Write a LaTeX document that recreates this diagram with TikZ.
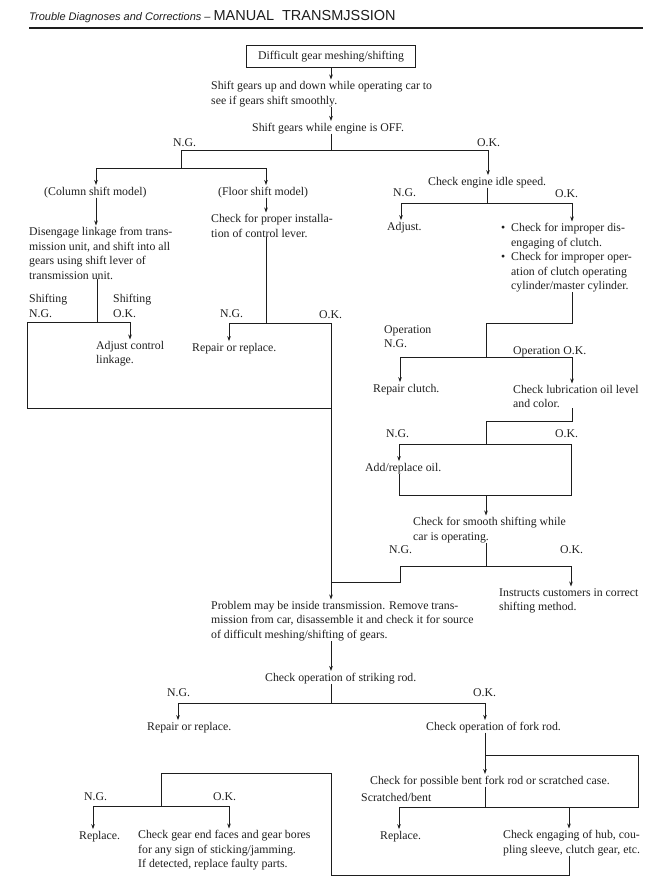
\documentclass[tikz,border=0pt]{standalone}
\usepackage{fontspec}
\setmainfont{Liberation Serif}
\setsansfont{Liberation Sans}
\usepackage{xcolor}
\definecolor{ink}{HTML}{1E1E1E}
\usetikzlibrary{arrows.meta,positioning}
\tikzset{
  txt/.style={font=\fontsize{11.8}{14.5}\selectfont, text=ink, inner sep=0pt, anchor=base west},
  blk/.style={font=\fontsize{11.8}{14.5}\selectfont, text=ink, inner sep=0pt, anchor=north west, align=left},
  ln/.style={ink, line width=0.8pt},
  arr/.style={ink, line width=0.8pt, -{Stealth[length=5pt,width=3.6pt]}, shorten >=1.5pt},
}
\newcommand{\bul}{\textbullet\ \ }
\newcommand{\nobul}{\phantom{\textbullet\ \ }}
\begin{document}
\begin{tikzpicture}[x=1pt,y=-1pt]
  \useasboundingbox (0,0) rectangle (655,889);

  \node[inner sep=0pt, anchor=base west, text=ink] (title) at (29,20) {\sffamily\itshape\fontsize{11}{12}\selectfont Trouble Diagnoses and Corrections -- \upshape\fontsize{14.5}{16}\selectfont MANUAL\ \ TRANSMJSSION};
  \draw[ink, line width=1.2pt] (29,28) -- (643,28);

  \node[draw=ink, line width=1.7pt, inner sep=0pt, minimum width=169pt, minimum height=22pt, font=\fontsize{11.8}{14.5}\selectfont, text=ink] (start) at (331,56.5) {Difficult gear meshing/shifting};
  \node[blk] (updown) at (211,81) {Shift gears up and down while operating car to\\see if gears shift smoothly.};
  \draw[arr] (start) -- (updown.north -| start);
  \node[txt] (engoff) at (252,131) {Shift gears while engine is OFF.};
  \draw[arr] (updown.south -| start) -- (engoff.north -| start);
  \node[txt] (ngA) at (173,146) {N.G.};
  \node[txt] (okA) at (477,146) {O.K.};
  \coordinate (j1) at (331,150);
  \coordinate (j1l) at (181,150);
  \coordinate (j1r) at (488,150);
  \draw[ln] (engoff.south -| j1) -- (j1) (j1l) -- (j1r);

  % column / floor shift
  \coordinate (j2l) at (96,168);
  \coordinate (j2r) at (266,168);
  \draw[ln] (j1l) -- (181,168) (j2l) -- (j2r);
  \node[txt] (column) at (44,195) {(Column shift model)};
  \node[txt] (floor) at (218,195) {(Floor shift model)};
  \draw[arr] (j2l) -- (column.north -| j2l);
  \draw[arr] (j2r) -- (floor.north -| j2r);

  \node[blk] (disengage) at (29,227) {Disengage linkage from trans-\\mission unit, and shift into all\\gears using shift lever of\\transmission unit.};
  \draw[arr] (column.south -| j2l) -- (disengage.north -| j2l);
  \node[blk] (colng) at (29,294) {Shifting\\N.G.};
  \node[blk] (colok) at (113,294) {Shifting\\O.K.};
  \coordinate (j3) at (97,322);
  \coordinate (j3l) at (27,322);
  \coordinate (j3r) at (130,322);
  \draw[ln] (disengage.south -| j3) -- (j3) (j3l) -- (j3r);
  \node[blk] (adjlink) at (96,341) {Adjust control\\linkage.};
  \draw[arr] (j3r) -- (adjlink.north -| j3r);
  \coordinate (j4) at (27,408);
  \coordinate (j4r) at (331,408);
  \draw[ln] (j3l) -- (j4) -- (j4r);

  \node[blk] (install) at (211,214) {Check for proper installa-\\tion of control lever.};
  \draw[arr] (floor.south -| j2r) -- (install.north -| j2r);
  \node[txt] (flng) at (220,317) {N.G.};
  \node[txt] (flok) at (319,318) {O.K.};
  \coordinate (j5) at (266,323);
  \coordinate (j5l) at (229,323);
  \coordinate (j5r) at (331,323);
  \draw[ln] (install.south -| j5) -- (j5) (j5l) -- (j5r);
  \node[txt] (repairA) at (192,351) {Repair or replace.};
  \draw[arr] (j5l) -- (repairA.north -| j5l);

  % engine idle / clutch branch
  \node[txt] (idle) at (428,185) {Check engine idle speed.};
  \draw[arr] (j1r) -- (idle.north -| j1r);
  \node[txt] (idleng) at (393,196) {N.G.};
  \node[txt] (idleok) at (555,197) {O.K.};
  \coordinate (j6) at (487,203);
  \coordinate (j6l) at (401,203);
  \coordinate (j6r) at (572,203);
  \draw[ln] (idle.south -| j6) -- (j6) (j6l) -- (j6r);
  \node[txt] (adjust) at (387,230) {Adjust.};
  \draw[arr] (j6l) -- (adjust.north -| j6l);
  \node[blk] (clutch) at (501,223) {\bul Check for improper dis-\\\nobul engaging of clutch.\\\bul Check for improper oper-\\\nobul ation of clutch operating\\\nobul cylinder/master cylinder.};
  \draw[arr] (j6r) -- (clutch.north -| j6r);

  \coordinate (j7) at (572,323);
  \coordinate (j7l) at (486,323);
  \coordinate (j8) at (486,357);
  \coordinate (j8l) at (400,357);
  \coordinate (j8r) at (572,357);
  \draw[ln] (clutch.south -| j7) -- (j7) -- (j7l) -- (j8) (j8l) -- (j8r);
  \node[blk] (opng) at (384,325) {Operation\\N.G.};
  \node[txt] (opok) at (513,354) {Operation O.K.};
  \node[txt] (repclutch) at (373,392) {Repair clutch.};
  \node[blk] (lube) at (513,385) {Check lubrication oil level\\and color.};
  \draw[arr] (j8l) -- (repclutch.north -| j8l);
  \draw[arr] (j8r) -- (lube.north -| j8r);

  \coordinate (j9) at (572,421);
  \coordinate (j9l) at (486,421);
  \coordinate (j10) at (486,444);
  \coordinate (j10l) at (399,444);
  \coordinate (j10r) at (571,444);
  \draw[ln] (lube.south -| j9) -- (j9) -- (j9l) -- (j10) (j10l) -- (j10r);
  \node[txt] (oilng) at (386,437) {N.G.};
  \node[txt] (oilok) at (555,437) {O.K.};
  \node[txt] (oil) at (365,471) {Add/replace oil.};
  \draw[arr] (j10l) -- (oil.north -| j10l);
  \coordinate (j11) at (486,495);
  \coordinate (j11l) at (399,495);
  \coordinate (j11r) at (571,495);
  \draw[ln] (oil.south -| j11l) -- (j11l) -- (j11r) -- (j10r);
  \node[blk] (smooth) at (413,517) {Check for smooth shifting while\\car is operating.};
  \draw[arr] (j11) -- (smooth.north -| j11);

  \node[txt] (smng) at (389,553) {N.G.};
  \node[txt] (smok) at (560,553) {O.K.};
  \coordinate (j12) at (486,566);
  \coordinate (j12l) at (400,566);
  \coordinate (j12r) at (571,566);
  \coordinate (j13) at (400,582);
  \coordinate (j13l) at (331,582);
  \draw[ln] (smooth.south -| j12) -- (j12) (j12l) -- (j12r) (j12l) -- (j13) -- (j13l);
  \node[blk] (instruct) at (499,588) {Instructs customers in correct\\shifting method.};
  \draw[arr] (j12r) -- (instruct.north -| j12r);

  % inside transmission
  \node[blk] (problem) at (211,601) {Problem may be inside transmission. Remove trans-\\mission from car, disassemble it and check it for source\\of difficult meshing/shifting of gears.};
  \draw[arr] (j5r) -- (problem.north -| j5r);

  \node[txt] (striking) at (265,681) {Check operation of striking rod.};
  \draw[arr] (problem.south -| j5r) -- (striking.north -| j5r);
  \node[txt] (strng) at (167,696) {N.G.};
  \node[txt] (strok) at (473,696) {O.K.};
  \coordinate (j14) at (331,703);
  \coordinate (j14l) at (178,703);
  \coordinate (j14r) at (485,703);
  \draw[ln] (striking.south -| j14) -- (j14) (j14l) -- (j14r);
  \node[txt] (repairB) at (147,730) {Repair or replace.};
  \node[txt] (forkrod) at (426,730) {Check operation of fork rod.};
  \draw[arr] (j14l) -- (repairB.north -| j14l);
  \draw[arr] (j14r) -- (forkrod.north -| j14r);

  \coordinate (j15) at (485,755);
  \coordinate (j15r) at (638,755);
  \node[txt] (bent) at (370,784) {Check for possible bent fork rod or scratched case.};
  \draw[arr] (forkrod.south -| j15) -- (bent.north -| j15);
  \coordinate (j16) at (485,807);
  \coordinate (j16l) at (399,807);
  \coordinate (j16m) at (569,807);
  \coordinate (j16r) at (638,807);
  \draw[ln] (j15) -- (j15r) -- (j16r) -- (j16l) (bent.south -| j16) -- (j16);
  \node[txt] (scratched) at (361,801) {Scratched/bent};
  \node[txt] (replaceB) at (380,839) {Replace.};
  \node[blk] (hub) at (503,830) {Check engaging of hub, cou-\\pling sleeve, clutch gear, etc.};
  \draw[arr] (j16l) -- (replaceB.north -| j16l);
  \draw[arr] (j16m) -- (hub.north -| j16m);

  \coordinate (j17) at (569,875);
  \coordinate (j17l) at (331,875);
  \coordinate (j18) at (331,773);
  \coordinate (j18l) at (161,773);
  \coordinate (j19) at (161,806);
  \coordinate (j19l) at (93,806);
  \coordinate (j19r) at (229,806);
  \draw[ln] (hub.south -| j17) -- (j17) -- (j17l) -- (j18) -- (j18l) -- (j19) (j19l) -- (j19r);
  \node[txt] (gng) at (84,800) {N.G.};
  \node[txt] (gok) at (213,800) {O.K.};
  \node[txt] (replaceA) at (79,839) {Replace.};
  \node[blk] (gearend) at (138,830) {Check gear end faces and gear bores\\for any sign of sticking/jamming.\\If detected, replace faulty parts.};
  \draw[arr] (j19l) -- (replaceA.north -| j19l);
  \draw[arr] (j19r) -- (gearend.north -| j19r);
\end{tikzpicture}
\end{document}
